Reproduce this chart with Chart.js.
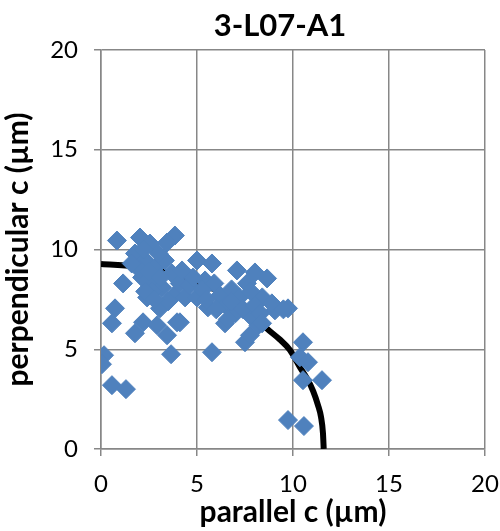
<!DOCTYPE html>
<html>
<head>
<meta charset="utf-8">
<script src="https://cdn.jsdelivr.net/npm/chart.js@4"></script>
<style>
html,body{margin:0;padding:0;background:#fff;}
#wrap{width:500px;height:531px;position:relative;}
</style>
</head>
<body>
<div id="wrap"><canvas id="c" width="500" height="531"></canvas></div>
<script>
const chartTitle = "3-L07-A1";
const xTitle = "parallel c (µm)";
const yTitle = "perpendicular c (µm)";
const xTicks = [0, 5, 10, 15, 20];
const yTicks = [0, 5, 10, 15, 20];

// measured points (parallel c, perpendicular c)
const parallelC = [
  0.16,0.05,0.57,1.3,0.83,1.15,0.73,0.57,
  2.03,2.55,3.85,3.44,1.77,2.29,2.81,3.33,2.66,3.18,3.7,2.14,1.77,2.19,2.4,3.07,2.92,3.44,3.65,3.96,3.8,2.7,2.0,3.0,2.5,3.1,2.3,3.5,4.1,2.8,1.6,2.2,
  4.22,5.0,5.78,7.08,8.02,5.42,7.6,8.65,8.4,9.74,9.06,4.11,5.78,6.46,7.5,7.76,5.57,4.38,7.86,4.6,5.0,5.3,5.9,6.2,6.5,6.8,7.2,7.0,7.4,8.0,8.3,8.9,6.0,4.8,6.6,8.2,9.5,5.5,6.8,7.8,
  8.39,10.52,10.36,10.78,10.52,11.51,9.74,10.57
];
const perpendicularC = [
  4.7,4.25,3.2,3.0,10.45,8.3,7.05,6.3,
  10.6,10.3,10.7,10.35,9.8,9.45,9.1,9.45,8.45,8.1,8.8,8.6,5.8,6.35,7.6,7.05,6.2,5.7,4.75,6.35,7.7,7.9,9.0,9.8,8.9,8.6,7.9,7.4,8.3,7.5,9.3,10.0,
  8.95,9.45,9.3,8.95,8.85,8.45,8.3,8.55,7.6,7.05,6.95,6.35,4.85,6.3,5.35,5.7,7.1,7.6,6.6,8.2,7.6,8.0,8.3,7.7,7.2,8.0,7.6,6.8,7.0,7.2,6.8,7.3,7.0,8.6,6.5,6.2,7.0,7.5,7.4,7.9,
  6.3,5.35,4.6,4.35,3.45,3.45,1.45,1.15
];

// fitted curve
const curveX = [0, 2, 4, 5, 6, 7, 7.76, 8.63, 9.3, 9.84, 10.36, 10.75, 11.05, 11.3, 11.46, 11.56, 11.6];
const curveY = [9.27, 9.12, 8.68, 8.38, 7.95, 7.42, 6.95, 6.05, 5.5, 4.96, 4.1, 3.5, 2.9, 2.2, 1.6, 0.8, 0];

const pts = parallelC.map((x, i) => ({x: x, y: perpendicularC[i]}));
const curve = curveX.map((x, i) => ({x: x, y: curveY[i]}));

const FONT = "Lato, 'Open Sans', sans-serif";

const titlePlugin = {
  id: 'customTitle',
  afterDraw(chart) {
    const ctx = chart.ctx;
    ctx.save();
    ctx.font = "bold 31px " + FONT;
    ctx.fillStyle = "#000";
    ctx.textAlign = "center";
    ctx.textBaseline = "middle";
    ctx.fillText(chartTitle, 280, 26);
    ctx.restore();
  }
};

new Chart(document.getElementById('c'), {
  type: 'scatter',
  data: {
    datasets: [
      {
        label: 'data',
        data: pts,
        pointStyle: 'rectRot',
        pointRadius: 9.5,
        pointHoverRadius: 9.5,
        backgroundColor: '#4F81BD',
        borderColor: '#4F81BD',
        borderWidth: 1,
        order: 0
      },
      {
        label: 'fit',
        type: 'line',
        data: curve,
        showLine: true,
        borderColor: '#000',
        borderWidth: 6,
        pointRadius: 0,
        cubicInterpolationMode: 'monotone',
        fill: false,
        order: 1
      }
    ]
  },
  options: {
    responsive: false,
    animation: false,
    layout: {padding: {top: 50, right: 15, left: 0, bottom: 0}},
    plugins: {legend: {display: false}, tooltip: {enabled: false}, title: {display: false}},
    scales: {
      x: {
        type: 'linear', min: 0, max: 20,
        afterBuildTicks(s) { s.ticks = xTicks.map(v => ({value: v})); },
        afterFit(s) { s.height = 82; s.paddingLeft = 0; s.paddingRight = 0; },
        grid: {color: '#878787', lineWidth: 1.5, tickLength: 7, drawTicks: true},
        border: {color: '#878787', width: 1.5},
        ticks: {color: '#000', font: {family: FONT, size: 24}, padding: 14, maxRotation: 0},
        title: {display: true, text: xTitle, color: '#000', font: {family: FONT, size: 30, weight: 'bold'}, padding: {top: 0, bottom: 1}}
      },
      y: {
        type: 'linear', min: 0, max: 20,
        afterBuildTicks(s) { s.ticks = yTicks.map(v => ({value: v})); },
        afterFit(s) { s.width = 101; s.paddingTop = 0; s.paddingBottom = 0; },
        grid: {color: '#878787', lineWidth: 1.5, tickLength: 7, drawTicks: true},
        border: {color: '#878787', width: 1.5},
        ticks: {color: '#000', font: {family: FONT, size: 24}, padding: 16},
        title: {display: true, text: yTitle, color: '#000', font: {family: FONT, size: 30, weight: 'bold'}, padding: {top: 0, bottom: 0}}
      }
    }
  },
  plugins: [titlePlugin]
});
</script>
</body>
</html>
